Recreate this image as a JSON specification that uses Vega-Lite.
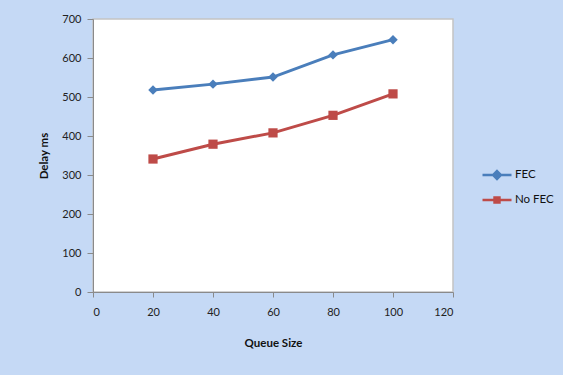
{
  "$schema": "https://vega.github.io/schema/vega-lite/v6.json",
  "width": 360,
  "height": 273,
  "autosize": {"type": "none"},
  "padding": {"left": 93, "top": 19, "right": 110, "bottom": 83},
  "background": "#c5d9f5",
  "config": {
    "font": "Lato",
    "view": {"fill": "white", "stroke": "#c4c4c4", "strokeWidth": 1.5},
    "axis": {
      "grid": false,
      "domainColor": "#8a8a8a",
      "tickColor": "#8a8a8a",
      "labelFont": "Lato",
      "labelFontSize": 11,
      "labelColor": "#222222",
      "titleFont": "Lato",
      "titleFontSize": 11.5,
      "titleFontWeight": "bold",
      "titleColor": "#111111"
    },
    "legend": {
      "labelFont": "Lato",
      "labelFontSize": 11.5,
      "labelColor": "#111111"
    }
  },
  "data": {
    "values": [
      {"queue": 20, "delay": 518, "series": "FEC"},
      {"queue": 40, "delay": 533, "series": "FEC"},
      {"queue": 60, "delay": 551, "series": "FEC"},
      {"queue": 80, "delay": 608, "series": "FEC"},
      {"queue": 100, "delay": 647, "series": "FEC"},
      {"queue": 20, "delay": 341, "series": "No FEC"},
      {"queue": 40, "delay": 379, "series": "No FEC"},
      {"queue": 60, "delay": 408, "series": "No FEC"},
      {"queue": 80, "delay": 453, "series": "No FEC"},
      {"queue": 100, "delay": 508, "series": "No FEC"}
    ]
  },
  "encoding": {
    "x": {
      "field": "queue",
      "type": "quantitative",
      "title": "Queue Size",
      "scale": {"domain": [0, 120], "nice": false},
      "axis": {
        "values": [0, 20, 40, 60, 80, 100, 120],
        "tickSize": 5,
        "labelPadding": 9,
        "titlePadding": 20
      }
    },
    "y": {
      "field": "delay",
      "type": "quantitative",
      "title": "Delay ms",
      "scale": {"domain": [0, 700], "nice": false},
      "axis": {
        "values": [0, 100, 200, 300, 400, 500, 600, 700],
        "tickSize": 6,
        "labelPadding": 6,
        "titlePadding": 12
      }
    },
    "color": {
      "field": "series",
      "type": "nominal",
      "title": null,
      "scale": {"domain": ["FEC", "No FEC"], "range": ["#4a7ebb", "#be4b48"]},
      "legend": {
        "orient": "none",
        "legendX": 388,
        "legendY": 140,
        "symbolSize": 841,
        "rowPadding": 0,
        "labelOffset": 2,
        "encode": {
          "symbols": {
            "update": {
              "shape": {"signal": "datum.value === 'FEC' ? 'M-1,0L1,0M0,-0.27L0.27,0L0,0.27L-0.27,0Z' : 'M-1,0L1,0M-0.17,-0.17L0.17,-0.17L0.17,0.17L-0.17,0.17Z'"},
              "strokeWidth": {"value": 2.5},
              "stroke": {"signal": "scale('color', datum.value)"},
              "fill": {"signal": "scale('color', datum.value)"},
              "opacity": {"value": 1}
            }
          }
        }
      }
    }
  },
  "layer": [
    {
      "mark": {"type": "line", "strokeWidth": 3}
    },
    {
      "transform": [{"filter": "datum.series === 'FEC'"}],
      "mark": {"type": "point", "shape": "diamond", "filled": true, "opacity": 1, "size": 90}
    },
    {
      "transform": [{"filter": "datum.series === 'No FEC'"}],
      "mark": {"type": "point", "shape": "square", "filled": true, "opacity": 1, "size": 85}
    }
  ]
}
